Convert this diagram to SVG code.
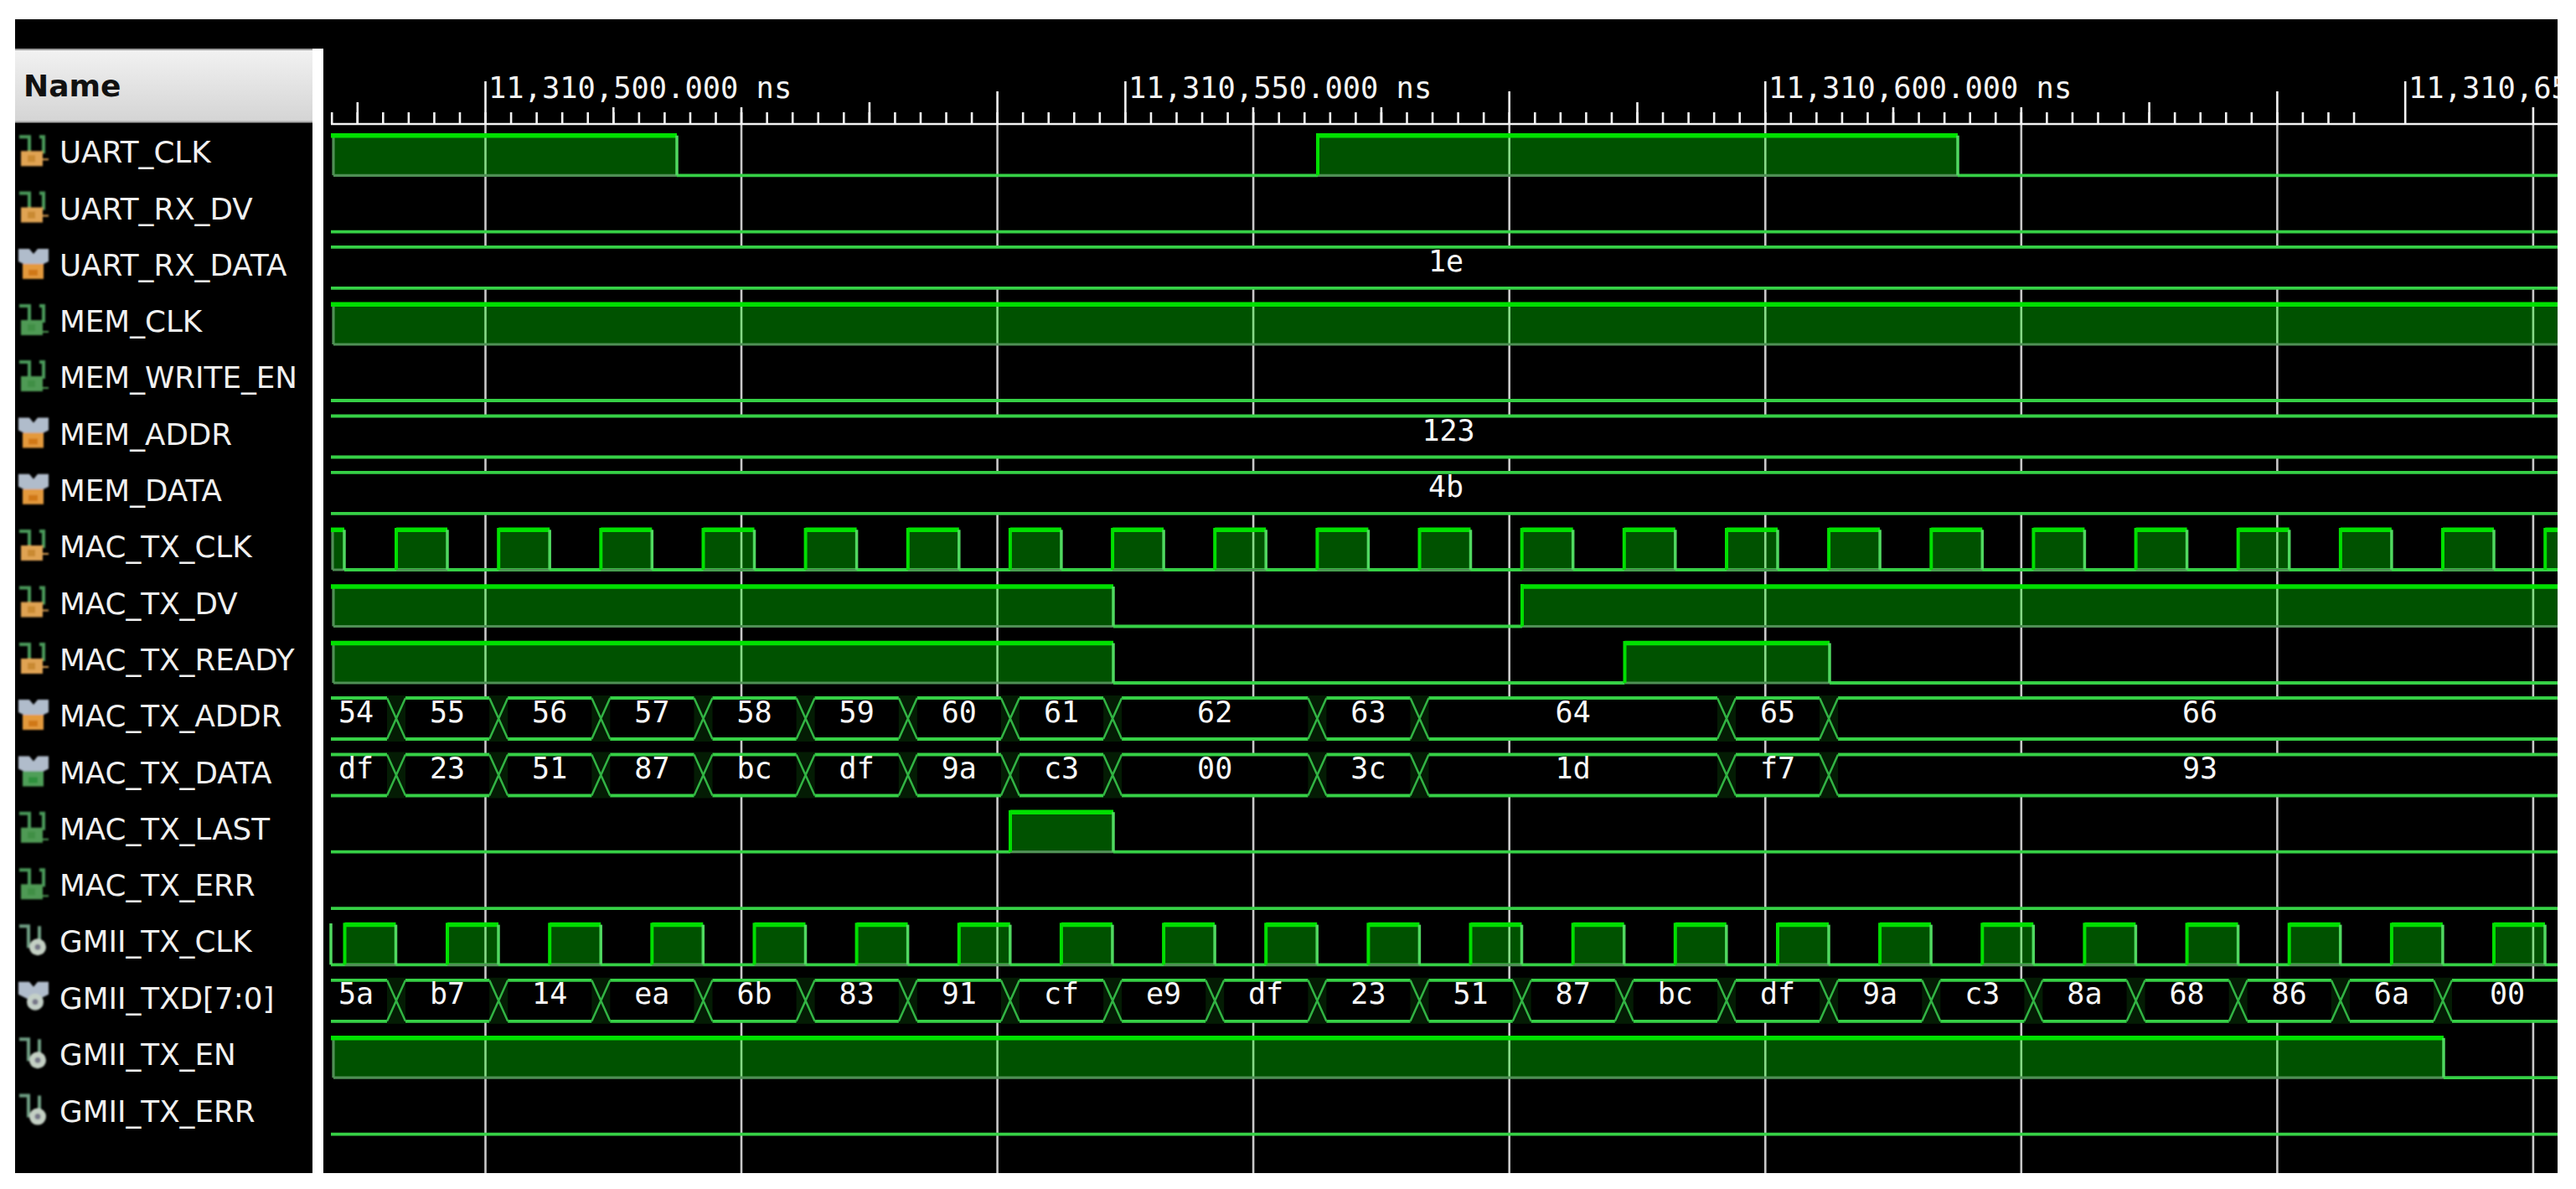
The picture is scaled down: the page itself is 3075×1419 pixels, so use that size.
<svg xmlns="http://www.w3.org/2000/svg" xmlns:xlink="http://www.w3.org/1999/xlink" width="3075" height="1419" viewBox="0 0 3075 1419">
<style>
.l{font:35.7px "DejaVu Sans",sans-serif;fill:#f0f0f0}
.h{font:bold 36px "DejaVu Sans",sans-serif;fill:#111}
.t{font:35.4px "DejaVu Sans Mono",monospace;fill:#f4f4f4}
.v{font:35px "DejaVu Sans Mono",monospace;fill:#f8f8f8;text-anchor:middle}
.f{fill:#00ff00;fill-opacity:.32}
.hi,.lo,.dim,.rise,.fall,.bx,.g,.tk{fill:none}
.hi{stroke:#00e000;stroke-width:5.5}
.lo{stroke:#36d046;stroke-width:3.8}
.dim{stroke:#4f8f55;stroke-width:3.2}
.rise{stroke:#00e000;stroke-width:4}
.fall{stroke:#50d860;stroke-width:3.5}
.bx{stroke:#32b444;stroke-width:2.5}
.g{stroke:#c8c8c8;stroke-width:2.6}
.tk{stroke:#f4f4f4;stroke-width:2.6}
.k{fill:#000}
</style>
<defs>
<linearGradient id="hg" x1="0" y1="0" x2="0" y2="1"><stop offset="0" stop-color="#f2f2f2"/><stop offset="1" stop-color="#d4d4d4"/></linearGradient>
<clipPath id="clip"><rect x="386" y="23" width="2667" height="1377"/></clipPath>
<filter id="soft" x="-20%" y="-20%" width="140%" height="140%"><feGaussianBlur stdDeviation="0.9"/></filter>
<g id="p"><rect y="-47.7" width="61" height="47.7" class="f"/><path class="dim" d="M0 0H61"/><path class="hi" d="M0-47.7H61"/><path class="rise" d="M0 0V-50"/><path class="fall" d="M61 0V-47.7"/></g>
<g id="x"><rect x="-11" y="-52" width="22" height="55" fill="#041c04"/><path class="bx" d="M-11-49L11 0M-11 0L11-49"/></g>
<path id="ws" d="M23-46H35V-26M47-46H52V-26" fill="none" stroke="#4a9a5a" stroke-width="4"/>
<path id="wb" d="M22-47H35L40-41L45-47H58V-32L48-27H32L22-32Z" fill="#b0bccb"/>
<g id="i-o" filter="url(#soft)"><use href="#ws"/><path d="M25-29H51V-20H58V-18H51V-11H25Z" fill="#e0a352"/><rect x="33" y="-24" width="9" height="8" fill="#c98a30"/></g>
<g id="i-g" filter="url(#soft)"><use href="#ws"/><path d="M25-29H51V-16H58V-14H51V-11H25Z" fill="#4f9a55"/><rect x="33" y="-24" width="9" height="8" fill="#3f8f45"/></g>
<g id="i-bo" filter="url(#soft)"><use href="#wb"/><path d="M27-29H52V-11H27Z" fill="#e49a3c"/><rect x="34" y="-22" width="11" height="7" fill="#d07818"/></g>
<g id="i-bg" filter="url(#soft)"><use href="#wb"/><path d="M27-29H52V-11H27Z" fill="#4f9f58"/><rect x="34" y="-22" width="11" height="7" fill="#2f8f3c"/></g>
<g id="i-c" filter="url(#soft)"><path d="M23-46H34V-20M47-46V-22" fill="none" stroke="#6f9f84" stroke-width="4"/><circle cx="45" cy="-21" r="10" fill="#c4d0c4"/><circle cx="45" cy="-21" r="3.5" fill="#778"/></g>
<g id="i-bc" filter="url(#soft)"><use href="#wb"/><circle cx="42" cy="-23" r="10" fill="#c4d0c8"/><circle cx="42" cy="-23" r="3.5" fill="#778"/></g>
</defs>
<rect width="3075" height="1419" fill="#fff"/>
<rect x="18" y="23" width="3035" height="1377" fill="#000"/>
<g id="name-header">
<rect x="18" y="58" width="355" height="88" fill="url(#hg)"/>
<path d="M18 59H373" stroke="#9a9a9a" stroke-width="2"/><path d="M18 145.5H373" stroke="#a8a8a8" stroke-width="2"/>
<rect x="373" y="58" width="13" height="1342" fill="#fff"/>
<text class="h" x="28" y="115">Name</text>
</g>
<g id="grid"><path class="g" d="M579.5 149V1400M885 149V1400M1190.6 149V1400M1496.1 149V1400M1801.7 149V1400M2107.3 149V1400M2412.8 149V1400M2718.4 149V1400M3023.9 149V1400"/></g>
<g id="ruler" clip-path="url(#clip)">
<path class="tk" d="M395 148H3053" stroke-width="3.4"/>
<path class="tk" d="M396.2 148v-14m30.555 14v-14m30.555 14v-14m30.555 14v-14m30.555 14v-14m30.555 14v-14m30.555 14v-14m30.555 14v-14m30.555 14v-14m30.555 14v-14m30.555 14v-14m30.555 14v-14m30.555 14v-14m30.555 14v-14m30.555 14v-14m30.555 14v-14m30.555 14v-14m30.555 14v-14m30.555 14v-14m30.555 14v-14m30.555 14v-14m30.555 14v-14m30.555 14v-14m30.555 14v-14m30.555 14v-14m30.555 14v-14m30.555 14v-14m30.555 14v-14m30.555 14v-14m30.555 14v-14m30.555 14v-14m30.555 14v-14m30.555 14v-14m30.555 14v-14m30.555 14v-14m30.555 14v-14m30.555 14v-14m30.555 14v-14m30.555 14v-14m30.555 14v-14m30.555 14v-14m30.555 14v-14m30.555 14v-14m30.555 14v-14m30.555 14v-14m30.555 14v-14m30.555 14v-14m30.555 14v-14m30.555 14v-14m30.555 14v-14m30.555 14v-14m30.555 14v-14m30.555 14v-14m30.555 14v-14m30.555 14v-14m30.555 14v-14m30.555 14v-14m30.555 14v-14m30.555 14v-14m30.555 14v-14m30.555 14v-14m30.555 14v-14m30.555 14v-14m30.555 14v-14m30.555 14v-14m30.555 14v-14m30.555 14v-14m30.555 14v-14m30.555 14v-14m30.555 14v-14m30.555 14v-14m30.555 14v-14m30.555 14v-14m30.555 14v-14m30.555 14v-14m30.555 14v-14m30.555 14v-14m30.555 14v-14m30.555 14v-14m30.555 14v-14"/>
<path class="tk" d="M426.8 148V122M579.5 148V97M732.3 148V128M885 148V128M1037.9 148V122M1190.6 148V109M1343.4 148V97M1496 148V128M1648.9 148V128M1801.7 148V109M1954.5 148V122M2107.3 148V97M2260 148V128M2412.8 148V128M2565.6 148V122M2718.4 148V109M2871.2 148V97M3023.9 148V128"/>
<text class="t" x="583" y="116.5">11,310,500.000 ns</text>
<text class="t" x="1347" y="116.5">11,310,550.000 ns</text>
<text class="t" x="2111" y="116.5">11,310,600.000 ns</text>
<text class="t" x="2875" y="116.5">11,310,65</text>
</g>
<g id="sig-UART_CLK"><use href="#i-o" y="209.3"/><text class="l" x="71" y="194">UART_CLK</text>
<rect class="f" x="398" y="161.8" width="410" height="47.5"/><rect class="f" x="1573" y="161.8" width="764" height="47.5"/>
<path class="lo" d="M808 209.3H1573M2337 209.3H3053"/><path class="dim" d="M398 209.3H808M1573 209.3H2337M398 209.3V161.8"/>
<path class="hi" d="M395 161.8H808M1573 161.8H2337"/><path class="rise" d="M1573 209.3V159"/><path class="fall" d="M808 209.3V161.8M2337 209.3V161.8"/></g>
<g id="sig-UART_RX_DV"><use href="#i-o" y="276.6"/><text class="l" x="71" y="261.5">UART_RX_DV</text><path class="lo" d="M395 276.6H3053"/></g>
<g id="sig-UART_RX_DATA"><use href="#i-bo" y="343.9"/><text class="l" x="71" y="329">UART_RX_DATA</text>
<rect class="k" x="395" y="294.9" width="2658" height="49"/><path class="lo" d="M395 294.9H3053M395 343.9H3053"/><text class="v" x="1726" y="324">1e</text></g>
<g id="sig-MEM_CLK"><use href="#i-g" y="411"/><text class="l" x="71" y="396">MEM_CLK</text>
<rect class="f" x="398" y="363.3" width="2655" height="47.7"/><path class="dim" d="M398 411H3053M398 411V363.3"/><path class="hi" d="M395 363.3H3053"/></g>
<g id="sig-MEM_WRITE_EN"><use href="#i-g" y="478"/><text class="l" x="71" y="463">MEM_WRITE_EN</text><path class="lo" d="M395 478H3053"/></g>
<g id="sig-MEM_ADDR"><use href="#i-bo" y="545.5"/><text class="l" x="71" y="530.5">MEM_ADDR</text>
<rect class="k" x="395" y="496.5" width="2658" height="49"/><path class="lo" d="M395 496.5H3053M395 545.5H3053"/><text class="v" x="1729" y="525.5">123</text></g>
<g id="sig-MEM_DATA"><use href="#i-bo" y="612.8"/><text class="l" x="71" y="598">MEM_DATA</text>
<rect class="k" x="395" y="563.8" width="2658" height="49"/><path class="lo" d="M395 563.8H3053M395 612.8H3053"/><text class="v" x="1726" y="592.5">4b</text></g>
<g id="sig-MAC_TX_CLK"><use href="#i-o" y="680"/><text class="l" x="71" y="665">MAC_TX_CLK</text>
<path class="lo" d="M411 680H3053"/>
<rect class="f" x="397" y="632.3" width="14" height="47.7"/><path class="dim" d="M397 680H411M397 680V632.3"/><path class="hi" d="M395 632.3H411"/><path class="fall" d="M411 680V632.3"/>
<use href="#p" x="473" y="680"/><use href="#p" x="595.2" y="680"/><use href="#p" x="717.3" y="680"/><use href="#p" x="839.5" y="680"/><use href="#p" x="961.6" y="680"/><use href="#p" x="1083.8" y="680"/><use href="#p" x="1205.9" y="680"/><use href="#p" x="1328.1" y="680"/><use href="#p" x="1450.2" y="680"/><use href="#p" x="1572.4" y="680"/><use href="#p" x="1694.5" y="680"/><use href="#p" x="1816.7" y="680"/><use href="#p" x="1938.8" y="680"/><use href="#p" x="2061" y="680"/><use href="#p" x="2183.1" y="680"/><use href="#p" x="2305.3" y="680"/><use href="#p" x="2427.4" y="680"/><use href="#p" x="2549.6" y="680"/><use href="#p" x="2671.7" y="680"/><use href="#p" x="2793.9" y="680"/><use href="#p" x="2916" y="680"/>
<rect class="f" x="3038.2" y="632.3" width="14.8" height="47.7"/><path class="hi" d="M3038.2 632.3H3053"/><path class="rise" d="M3038.2 680V630"/></g>
<g id="sig-MAC_TX_DV"><use href="#i-o" y="747.5"/><text class="l" x="71" y="732.5">MAC_TX_DV</text>
<rect class="f" x="398" y="700" width="931" height="47.5"/><rect class="f" x="1817" y="700" width="1236" height="47.5"/>
<path class="lo" d="M1329 747.5H1817"/><path class="dim" d="M398 747.5H1329M1817 747.5H3053M398 747.5V700"/>
<path class="hi" d="M395 700H1329M1817 700H3053"/><path class="rise" d="M1817 747.5V697"/><path class="fall" d="M1329 747.5V700"/></g>
<g id="sig-MAC_TX_READY"><use href="#i-o" y="815"/><text class="l" x="71" y="800">MAC_TX_READY</text>
<rect class="f" x="398" y="767.5" width="931" height="47.5"/><rect class="f" x="1939.5" y="767.5" width="244.5" height="47.5"/>
<path class="lo" d="M1329 815H1939.5M2184 815H3053"/><path class="dim" d="M398 815H1329M1939.5 815H2184M398 815V767.5"/>
<path class="hi" d="M395 767.5H1329M1939.5 767.5H2184"/><path class="rise" d="M1939.5 815V765"/><path class="fall" d="M1329 815V767.5M2184 815V767.5"/></g>
<g id="sig-MAC_TX_ADDR"><use href="#i-bo" y="882"/><text class="l" x="71" y="867">MAC_TX_ADDR</text>
<rect class="k" x="395" y="833" width="2658" height="49"/><path class="lo" d="M395 833H3053M395 882H3053"/>
<use href="#x" x="473" y="882"/><use href="#x" x="595.2" y="882"/><use href="#x" x="717.3" y="882"/><use href="#x" x="839.5" y="882"/><use href="#x" x="961.6" y="882"/><use href="#x" x="1083.8" y="882"/><use href="#x" x="1205.9" y="882"/><use href="#x" x="1328.1" y="882"/><use href="#x" x="1572.4" y="882"/><use href="#x" x="1694.5" y="882"/><use href="#x" x="2061" y="882"/><use href="#x" x="2183.1" y="882"/>
<text class="v" x="425" y="861.5">54</text><text class="v" x="534" y="861.5">55</text><text class="v" x="656.2" y="861.5">56</text><text class="v" x="778.4" y="861.5">57</text><text class="v" x="900.5" y="861.5">58</text><text class="v" x="1022.7" y="861.5">59</text><text class="v" x="1144.8" y="861.5">60</text><text class="v" x="1267" y="861.5">61</text><text class="v" x="1450.2" y="861.5">62</text><text class="v" x="1633.4" y="861.5">63</text><text class="v" x="1877.7" y="861.5">64</text><text class="v" x="2122" y="861.5">65</text><text class="v" x="2626" y="861.5">66</text></g>
<g id="sig-MAC_TX_DATA"><use href="#i-bg" y="949.5"/><text class="l" x="71" y="934.5">MAC_TX_DATA</text>
<rect class="k" x="395" y="900.5" width="2658" height="49"/><path class="lo" d="M395 900.5H3053M395 949.5H3053"/>
<use href="#x" x="473" y="949.5"/><use href="#x" x="595.2" y="949.5"/><use href="#x" x="717.3" y="949.5"/><use href="#x" x="839.5" y="949.5"/><use href="#x" x="961.6" y="949.5"/><use href="#x" x="1083.8" y="949.5"/><use href="#x" x="1205.9" y="949.5"/><use href="#x" x="1328.1" y="949.5"/><use href="#x" x="1572.4" y="949.5"/><use href="#x" x="1694.5" y="949.5"/><use href="#x" x="2061" y="949.5"/><use href="#x" x="2183.1" y="949.5"/>
<text class="v" x="425" y="928.5">df</text><text class="v" x="534" y="928.5">23</text><text class="v" x="656.2" y="928.5">51</text><text class="v" x="778.4" y="928.5">87</text><text class="v" x="900.5" y="928.5">bc</text><text class="v" x="1022.7" y="928.5">df</text><text class="v" x="1144.8" y="928.5">9a</text><text class="v" x="1267" y="928.5">c3</text><text class="v" x="1450.2" y="928.5">00</text><text class="v" x="1633.4" y="928.5">3c</text><text class="v" x="1877.7" y="928.5">1d</text><text class="v" x="2122" y="928.5">f7</text><text class="v" x="2626" y="928.5">93</text></g>
<g id="sig-MAC_TX_LAST"><use href="#i-g" y="1016.7"/><text class="l" x="71" y="1001.7">MAC_TX_LAST</text>
<rect class="f" x="1206" y="969.2" width="123" height="47.5"/><path class="lo" d="M395 1016.7H1206M1329 1016.7H3053"/><path class="dim" d="M1206 1016.7H1329"/><path class="hi" d="M1206 969.2H1329"/><path class="rise" d="M1206 1016.7V967"/><path class="fall" d="M1329 1016.7V969.2"/></g>
<g id="sig-MAC_TX_ERR"><use href="#i-g" y="1084.2"/><text class="l" x="71" y="1069">MAC_TX_ERR</text><path class="lo" d="M395 1084.2H3053"/></g>
<g id="sig-GMII_TX_CLK"><use href="#i-c" y="1151.3"/><text class="l" x="71" y="1136">GMII_TX_CLK</text>
<path class="lo" d="M395 1151.3H3053"/><path class="fall" d="M395 1151.3V1102"/>
<use href="#p" x="411.5" y="1151.3"/><use href="#p" x="534" y="1151.3"/><use href="#p" x="656.2" y="1151.3"/><use href="#p" x="778.3" y="1151.3"/><use href="#p" x="900.5" y="1151.3"/><use href="#p" x="1022.6" y="1151.3"/><use href="#p" x="1144.8" y="1151.3"/><use href="#p" x="1266.9" y="1151.3"/><use href="#p" x="1389.1" y="1151.3"/><use href="#p" x="1511.2" y="1151.3"/><use href="#p" x="1633.4" y="1151.3"/><use href="#p" x="1755.5" y="1151.3"/><use href="#p" x="1877.7" y="1151.3"/><use href="#p" x="1999.8" y="1151.3"/><use href="#p" x="2122" y="1151.3"/><use href="#p" x="2244.1" y="1151.3"/><use href="#p" x="2366.3" y="1151.3"/><use href="#p" x="2488.4" y="1151.3"/><use href="#p" x="2610.6" y="1151.3"/><use href="#p" x="2732.7" y="1151.3"/><use href="#p" x="2854.9" y="1151.3"/><use href="#p" x="2977" y="1151.3"/></g>
<g id="sig-GMII_TXD"><use href="#i-bc" y="1218.8"/><text class="l" x="71" y="1204">GMII_TXD[7:0]</text>
<rect class="k" x="395" y="1169.8" width="2658" height="49"/><path class="lo" d="M395 1169.8H3053M395 1218.8H3053"/>
<use href="#x" x="473" y="1218.8"/><use href="#x" x="595.2" y="1218.8"/><use href="#x" x="717.3" y="1218.8"/><use href="#x" x="839.5" y="1218.8"/><use href="#x" x="961.6" y="1218.8"/><use href="#x" x="1083.8" y="1218.8"/><use href="#x" x="1205.9" y="1218.8"/><use href="#x" x="1328.1" y="1218.8"/><use href="#x" x="1450.2" y="1218.8"/><use href="#x" x="1572.4" y="1218.8"/><use href="#x" x="1694.5" y="1218.8"/><use href="#x" x="1816.7" y="1218.8"/><use href="#x" x="1938.8" y="1218.8"/><use href="#x" x="2061" y="1218.8"/><use href="#x" x="2183.1" y="1218.8"/><use href="#x" x="2305.3" y="1218.8"/><use href="#x" x="2427.4" y="1218.8"/><use href="#x" x="2549.6" y="1218.8"/><use href="#x" x="2671.7" y="1218.8"/><use href="#x" x="2793.9" y="1218.8"/><use href="#x" x="2916" y="1218.8"/>
<text class="v" x="425" y="1198">5a</text><text class="v" x="534" y="1198">b7</text><text class="v" x="656.2" y="1198">14</text><text class="v" x="778.3" y="1198">ea</text><text class="v" x="900.5" y="1198">6b</text><text class="v" x="1022.7" y="1198">83</text><text class="v" x="1144.8" y="1198">91</text><text class="v" x="1267" y="1198">cf</text><text class="v" x="1389" y="1198">e9</text><text class="v" x="1511" y="1198">df</text><text class="v" x="1633.4" y="1198">23</text><text class="v" x="1755.5" y="1198">51</text><text class="v" x="1877.7" y="1198">87</text><text class="v" x="1999.8" y="1198">bc</text><text class="v" x="2122" y="1198">df</text><text class="v" x="2244" y="1198">9a</text><text class="v" x="2366.3" y="1198">c3</text><text class="v" x="2488.4" y="1198">8a</text><text class="v" x="2610.6" y="1198">68</text><text class="v" x="2732.7" y="1198">86</text><text class="v" x="2854.9" y="1198">6a</text><text class="v" x="2993" y="1198">00</text></g>
<g id="sig-GMII_TX_EN"><use href="#i-c" y="1286.2"/><text class="l" x="71" y="1271">GMII_TX_EN</text>
<rect class="f" x="398" y="1238.7" width="2519" height="47.5"/><path class="dim" d="M398 1286.2H2917M398 1286.2V1238.7"/><path class="lo" d="M2917 1286.2H3053"/><path class="hi" d="M395 1238.7H2917"/><path class="fall" d="M2917 1286.2V1238.7"/></g>
<g id="sig-GMII_TX_ERR"><use href="#i-c" y="1353.6"/><text class="l" x="71" y="1338.5">GMII_TX_ERR</text><path class="lo" d="M395 1353.6H3053"/></g>
</svg>
